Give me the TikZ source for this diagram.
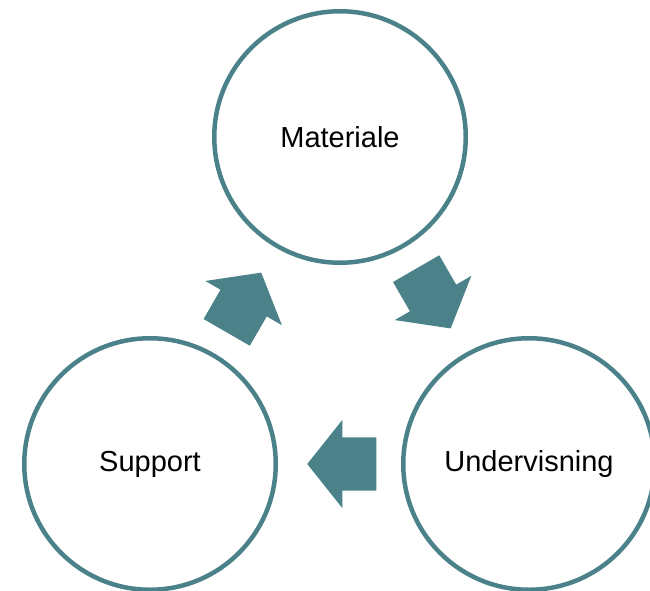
\documentclass[tikz,border=0pt]{standalone}
\usepackage{fontspec}
\setmainfont{Liberation Sans}
\definecolor{petrol}{RGB}{75, 130, 137}
\usepackage{tikz}
\usetikzlibrary{positioning,shapes.arrows,calc}

\begin{document}
\begin{tikzpicture}[
    x=1pt, y=-1pt,
    font={\fontsize{29pt}{34pt}\selectfont},
    phase/.style={circle, draw=petrol, line width=4.5pt, fill=white,
      minimum size=251.5pt, inner sep=0pt},
    flow/.style={single arrow, fill=petrol, draw=none, anchor=tip,
      inner xsep=0pt, inner ysep=26.5pt, minimum height=69pt,
      single arrow head extend=17.5pt, single arrow tip angle=103}
  ]
    \useasboundingbox (0,0) rectangle (650,591);
    \begin{scope}
    \clip (0,0) rectangle (650,591);

    % the three phases of the cycle
    \node[phase] (mat) at (340,137) {Materiale};
    \node[phase] (und) at (529,464) {Undervisning};
    \node[phase] (sup) at (150,464) {Support};

    % block arrows, tip just past the middle between two circles
    \node[flow, rotate=-60] (a1) at ($(mat)!0.5!(und)!32.5pt!(und)$) {};
    \node[flow, rotate=180] (a2) at ($(und)!0.5!(sup)!32.5pt!(sup)$) {};
    \node[flow, rotate=60] (a3) at ($(sup)!0.5!(mat)!32.5pt!(mat)$) {};
    \end{scope}
  \end{tikzpicture}
\end{document}
